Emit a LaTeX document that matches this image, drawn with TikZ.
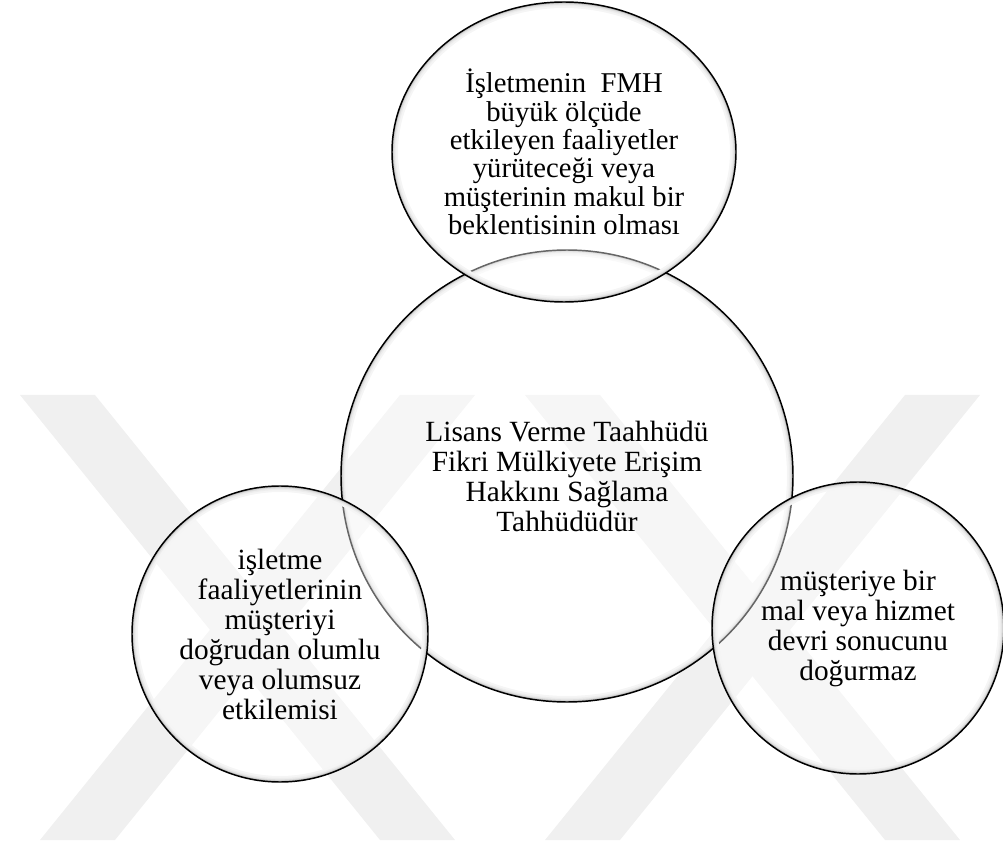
\documentclass[tikz,border=0pt]{standalone}
\usepackage{fontspec}
\setmainfont{Liberation Serif}
\usetikzlibrary{shapes.geometric}

\tikzset{
  bubble/.style 2 args={
    ellipse, draw=black, line width=1.1pt,
    fill=white, fill opacity=0.4, text opacity=1,
    minimum width={1.5*#1 pt}, minimum height={1.5*#2 pt},
    inner sep=0pt, align=center,
    font={\fontsize{22}{22.5}\selectfont},
    path picture={
      \foreach \w/\c in {9/4,6/7,4/12,2.5/20,1.4/32}{
        \draw[line width=\w pt, draw=black!\c, draw opacity=1]
          (path picture bounding box.center)
          ellipse [x radius={0.75*#1 pt}, y radius={0.75*#2 pt}];
      }
    }
  },
  emblem/.style={fill=black!6}
}

\begin{document}
\begin{tikzpicture}[x=0.75pt,y=-0.75pt]
\useasboundingbox (0,0) rectangle (1003,848);

% faint emblem in the background
\fill[emblem] (20,395) -- (95,395) -- (455,840) -- (380,840) -- cycle;
\fill[emblem] (40,840) -- (115,840) -- (475,395) -- (400,395) -- cycle;
\fill[emblem] (525,395) -- (600,395) -- (960,840) -- (885,840) -- cycle;
\fill[emblem] (545,840) -- (620,840) -- (980,395) -- (905,395) -- cycle;

% the four overlapping bubbles
\node[bubble={226}{226}] (core) at (567,476)
  {Lisans Verme Taahhüdü\\Fikri Mülkiyete Erişim\\Hakkını Sağlama\\Tahhüdüdür};
\node[bubble={172}{150}, font={\fontsize{21.5}{21.3}\selectfont}] (top) at (564,152)
  {İşletmenin~ FMH\\büyük ölçüde\\etkileyen faaliyetler\\yürüteceği veya\\müşterinin makul bir\\beklentisinin olması};
\node[bubble={148}{148}] (left) at (280,634)
  {işletme\\faaliyetlerinin\\müşteriyi\\doğrudan olumlu\\veya olumsuz\\etkilemisi};
\node[bubble={146}{146}] (right) at (858,628)
  {müşteriye bir\\mal veya hizmet\\devri sonucunu\\doğurmaz};
\end{tikzpicture}
\end{document}
